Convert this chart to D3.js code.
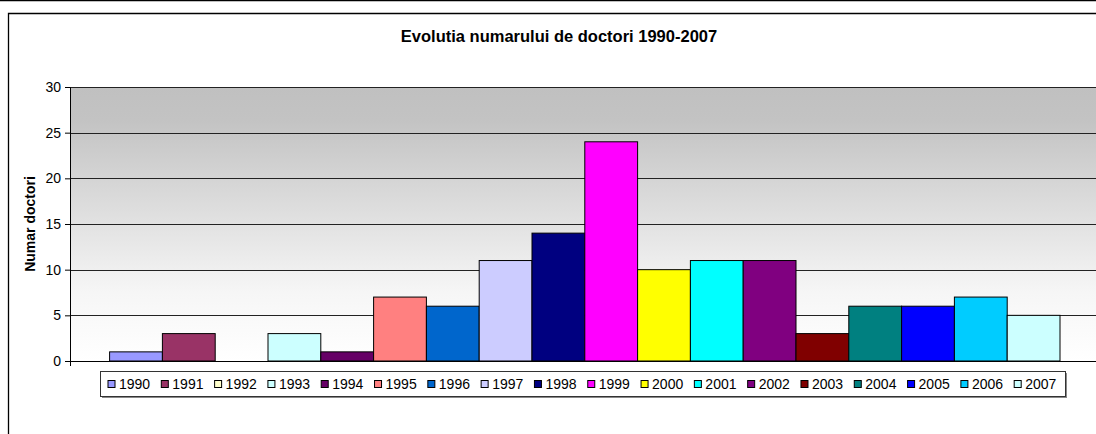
<!DOCTYPE html>
<html>
<head>
<meta charset="utf-8">
<script src="https://cdn.jsdelivr.net/npm/d3@7"></script>
<style>
  body { margin: 0; background: #fff; }
  svg { display: block; font-family: "Liberation Sans", Arial, sans-serif; }
</style>
</head>
<body>
<div id="chart"></div>
<script>
// data
const years = ["1990", "1991", "1992", "1993", "1994", "1995", "1996", "1997", "1998",
  "1999", "2000", "2001", "2002", "2003", "2004", "2005", "2006", "2007"];
const doctors = [1, 3, 0, 3, 1, 7, 6, 11, 14, 24, 10, 11, 11, 3, 6, 6, 7, 5];
const colors = ["#9999ff", "#993366", "#ffffcc", "#ccffff", "#660066", "#ff8080",
  "#0066cc", "#ccccff", "#000080", "#ff00ff", "#ffff00", "#00ffff", "#800080",
  "#800000", "#008080", "#0000ff", "#00ccff", "#ccffff"];
const yTicks = [0, 5, 10, 15, 20, 25, 30];

const width = 1096, height = 434;
const plot = { left: 70, right: 1099.6, top: 87, bottom: 361 };

const svg = d3.select("#chart").append("svg")
  .attr("width", width)
  .attr("height", height);

// frame lines
svg.append("line")
  .attr("x1", 0).attr("x2", width).attr("y1", 0.5).attr("y2", 0.5)
  .attr("stroke", "#000").attr("stroke-width", 1.5);
svg.append("path")
  .attr("d", "M8.5," + height + "V13.5H" + width)
  .attr("fill", "none").attr("stroke", "#000").attr("stroke-width", 1.3);

// title
svg.append("text")
  .attr("x", 559).attr("y", 42)
  .attr("text-anchor", "middle")
  .attr("font-weight", "bold")
  .attr("font-size", 16.5)
  .text("Evolutia numarului de doctori 1990-2007");

const x = d3.scaleBand()
  .domain(years)
  .range([plot.left, plot.right])
  .paddingInner(0)
  .paddingOuter(0.75);

const y = d3.scaleLinear()
  .domain([0, 30])
  .range([plot.bottom, plot.top]);

// plot background gradient
const grad = svg.append("defs").append("linearGradient")
  .attr("id", "bg").attr("x1", 0).attr("x2", 0).attr("y1", 0).attr("y2", 1);
grad.append("stop").attr("offset", "0%").attr("stop-color", "#c0c0c0");
grad.append("stop").attr("offset", "12%").attr("stop-color", "#c3c3c3");
grad.append("stop").attr("offset", "75%").attr("stop-color", "#f6f6f6");
grad.append("stop").attr("offset", "100%").attr("stop-color", "#ffffff");

svg.append("rect")
  .attr("x", plot.left).attr("y", plot.top)
  .attr("width", plot.right - plot.left)
  .attr("height", plot.bottom - plot.top)
  .attr("fill", "url(#bg)");

// gridlines
svg.append("g")
  .selectAll("line")
  .data(yTicks.filter(d => d > 0))
  .join("line")
  .attr("x1", plot.left).attr("x2", plot.right)
  .attr("y1", d => Math.round(y(d)) + 0.5)
  .attr("y2", d => Math.round(y(d)) + 0.5)
  .attr("stroke", "#222")
  .attr("stroke-width", 1.2);

// bars
svg.append("g")
  .selectAll("rect")
  .data(years)
  .join("rect")
  .attr("x", d => x(d))
  .attr("y", (d, i) => y(doctors[i]))
  .attr("width", x.bandwidth())
  .attr("height", (d, i) => y(0) - y(doctors[i]))
  .attr("fill", (d, i) => colors[i])
  .attr("stroke", "#000")
  .attr("stroke-width", 1);

// y axis
const yAxis = svg.append("g")
  .attr("transform", "translate(" + plot.left + ",0)")
  .call(d3.axisLeft(y).tickValues(yTicks).tickSize(5).tickPadding(4));
yAxis.select(".domain").attr("stroke", "#000");
yAxis.selectAll("text")
  .attr("font-size", 14)
  .attr("font-family", "Liberation Sans, Arial, sans-serif")
  .attr("fill", "#000");

// x axis line with end tick
svg.append("line")
  .attr("x1", 65).attr("x2", plot.right)
  .attr("y1", plot.bottom + 0.5).attr("y2", plot.bottom + 0.5)
  .attr("stroke", "#000");
svg.append("line")
  .attr("x1", plot.left + 0.5).attr("x2", plot.left + 0.5)
  .attr("y1", plot.bottom).attr("y2", plot.bottom + 5)
  .attr("stroke", "#000");

// y axis title
svg.append("text")
  .attr("transform", "translate(35,224) rotate(-90)")
  .attr("text-anchor", "middle")
  .attr("font-weight", "bold")
  .attr("font-size", 14)
  .text("Numar doctori");

// legend
const legendX = d3.scaleBand()
  .domain(years)
  .range([106.5, 1066]);

const legend = svg.append("g");
legend.append("rect")
  .attr("x", 102).attr("y", 373)
  .attr("width", 965).attr("height", 25)
  .attr("fill", "#888");
legend.append("rect")
  .attr("x", 100.5).attr("y", 371.5)
  .attr("width", 965).attr("height", 25)
  .attr("fill", "#fff")
  .attr("stroke", "#333");

const item = legend.selectAll("g.item")
  .data(years)
  .join("g")
  .attr("class", "item")
  .attr("transform", d => "translate(" + legendX(d) + ",0)");

item.append("rect")
  .attr("x", 1.5).attr("y", 380.5)
  .attr("width", 7).attr("height", 7)
  .attr("fill", (d, i) => colors[i])
  .attr("stroke", "#000");

item.append("text")
  .attr("x", 12.5).attr("y", 389)
  .attr("font-size", 14)
  .text(d => d);
</script>
</body>
</html>
